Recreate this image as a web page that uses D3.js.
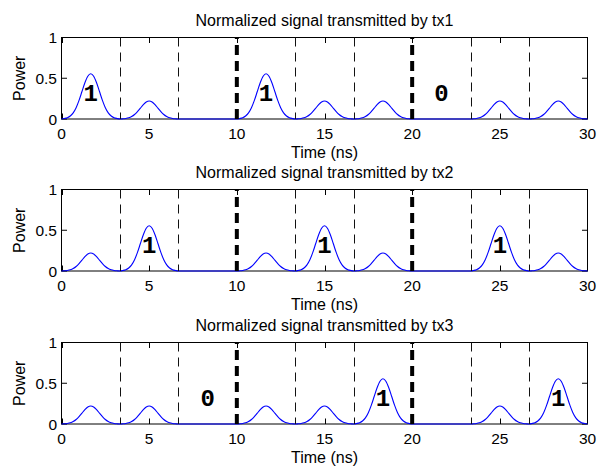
<!DOCTYPE html>
<html>
<head>
<meta charset="utf-8">
<script src="https://cdn.jsdelivr.net/npm/d3@7"></script>
<style>
  html, body { margin: 0; padding: 0; background: #fff; }
  svg { display: block; font-family: "Liberation Sans", Arial, Helvetica, sans-serif; }
</style>
</head>
<body>
<svg id="chart" width="599" height="468"></svg>
<script>
// ---- data ----
const timeTicks = [0, 5, 10, 15, 20, 25, 30];
const powerTicks = [0, 0.5, 1];
const powerTickLabels = ["0", "0.5", "1"];
const slotCenters = [1.667, 5, 8.333, 11.667, 15, 18.333, 21.667, 25, 28.333];
const slotEdges = [3.333, 6.667, 13.333, 16.667, 23.333, 26.667];
const frameEdges = [10, 20];
const titles = ["Normalized signal transmitted by tx1", "Normalized signal transmitted by tx2", "Normalized signal transmitted by tx3"];
const tx1Peaks = [0.555, 0.22, 0, 0.555, 0.22, 0.22, 0, 0.22, 0.22];
const tx2Peaks = [0.22, 0.555, 0, 0.22, 0.555, 0.22, 0, 0.555, 0.22];
const tx3Peaks = [0.22, 0.22, 0, 0.22, 0.22, 0.555, 0, 0.22, 0.555];
const tx1LabelSlots = [0, 3, 6];
const tx1LabelText = ["1", "1", "0"];
const tx2LabelSlots = [1, 4, 7];
const tx2LabelText = ["1", "1", "1"];
const tx3LabelSlots = [2, 5, 8];
const tx3LabelText = ["0", "1", "1"];
// pulse profile (offset from slot centre in ns, relative height)
const pulseOffsets = [-1.667, -1.5, -1.333, -1.167, -1.0, -0.833, -0.667, -0.5, -0.333, -0.167, 0,
                       0.167, 0.333, 0.5, 0.667, 0.833, 1.0, 1.167, 1.333, 1.5, 1.667];
const pulseShape = [0, 0.011, 0.029, 0.066, 0.135, 0.249, 0.411, 0.607, 0.801, 0.946, 1,
                    0.946, 0.801, 0.607, 0.411, 0.249, 0.135, 0.066, 0.029, 0.011, 0];
const labelY = 0.3;

const panels = [
  {peaks: tx1Peaks, slots: tx1LabelSlots, text: tx1LabelText, title: titles[0]},
  {peaks: tx2Peaks, slots: tx2LabelSlots, text: tx2LabelText, title: titles[1]},
  {peaks: tx3Peaks, slots: tx3LabelSlots, text: tx3LabelText, title: titles[2]}
];

// ---- layout ----
const svg = d3.select("#chart");
const left = 61.5, right = 587.5;
const panelTops = [37.5, 189.5, 342.5];
const panelH = 81.5;
const x = d3.scaleLinear().domain([0, 30]).range([left, right]);

panels.forEach((p, k) => {
  const top = panelTops[k], bottom = top + panelH;
  const y = d3.scaleLinear().domain([0, 1]).range([bottom, top]);
  const g = svg.append("g");

  // series points (skip duplicate shared edge points)
  const pts = [];
  p.peaks.forEach((amp, i) => {
    pulseOffsets.forEach((o, j) => {
      if (i > 0 && j === 0) return;
      pts.push([slotCenters[i] + o, amp * pulseShape[j]]);
    });
  });
  const clipped = pts.map(d => [Math.max(0, Math.min(30, d[0])), d[1]]);

  // box
  g.append("rect").attr("x", left).attr("y", top).attr("width", right - left).attr("height", panelH)
    .attr("fill", "none").attr("stroke", "#000").attr("stroke-width", 1);

  // ticks (inside, bottom & top, left & right)
  const tl = 5.5;
  timeTicks.forEach(t => {
    const xx = Math.round(x(t)) + 0.5 - (t === 30 ? 1 : 0);
    g.append("line").attr("x1", xx).attr("x2", xx).attr("y1", bottom).attr("y2", bottom - tl).attr("stroke", "#000");
    g.append("line").attr("x1", xx).attr("x2", xx).attr("y1", top).attr("y2", top + tl).attr("stroke", "#000");
  });
  powerTicks.forEach(v => {
    const yy = y(v);
    g.append("line").attr("x1", left).attr("x2", left + tl).attr("y1", yy).attr("y2", yy).attr("stroke", "#000");
    g.append("line").attr("x1", right).attr("x2", right - tl).attr("y1", yy).attr("y2", yy).attr("stroke", "#000");
  });

  // curve
  g.append("path").datum(clipped)
    .attr("fill", "none").attr("stroke", "#0000ff").attr("stroke-width", 1.1)
    .attr("d", d3.line().x(d => x(d[0])).y(d => y(d[1])).curve(d3.curveMonotoneX));

  // slot separators (thin dashed)
  slotEdges.forEach(t => {
    const xx = Math.round(x(t)) + 0.5;
    g.append("line").attr("x1", xx).attr("x2", xx).attr("y1", y(1)).attr("y2", y(0))
      .attr("stroke", "#111").attr("stroke-width", 1).attr("stroke-dasharray", "9,6");
  });
  // frame separators (thick dashed)
  frameEdges.forEach(t => {
    const xx = x(t);
    g.append("line").attr("x1", xx).attr("x2", xx).attr("y1", y(0)).attr("y2", y(1))
      .attr("stroke", "#000").attr("stroke-width", 4).attr("stroke-dasharray", "10,6");
  });

  // bit labels
  p.slots.forEach((s, i) => {
    g.append("text").attr("x", x(slotCenters[s])).attr("y", y(labelY))
      .attr("text-anchor", "middle").attr("dominant-baseline", "central")
      .attr("font-family", "'Liberation Mono', 'DejaVu Sans Mono', monospace")
      .attr("font-weight", "bold").attr("font-size", 24).attr("fill", "#000")
      .text(p.text[i]);
  });

  // tick labels
  timeTicks.forEach(t => {
    g.append("text").attr("x", x(t)).attr("y", bottom + 20).attr("text-anchor", "middle")
      .attr("font-size", 15.5).attr("fill", "#000").text(t);
  });
  powerTicks.forEach((v, i) => {
    g.append("text").attr("x", left - 4.5).attr("y", y(v)).attr("text-anchor", "end")
      .attr("dominant-baseline", "central")
      .attr("font-size", 15.5).attr("fill", "#000").text(powerTickLabels[i]);
  });

  // title, axis labels
  g.append("text").attr("x", (left + right) / 2).attr("y", top - 11.5).attr("text-anchor", "middle")
    .attr("font-size", 16).attr("fill", "#000").text(p.title);
  g.append("text").attr("x", (left + right) / 2).attr("y", bottom + 38.5).attr("text-anchor", "middle")
    .attr("font-size", 16).attr("fill", "#000").text("Time (ns)");
  g.append("text").attr("transform", `translate(25,${(top + bottom) / 2}) rotate(-90)`)
    .attr("text-anchor", "middle").attr("font-size", 16).attr("fill", "#000").text("Power");
});
</script>
</body>
</html>
